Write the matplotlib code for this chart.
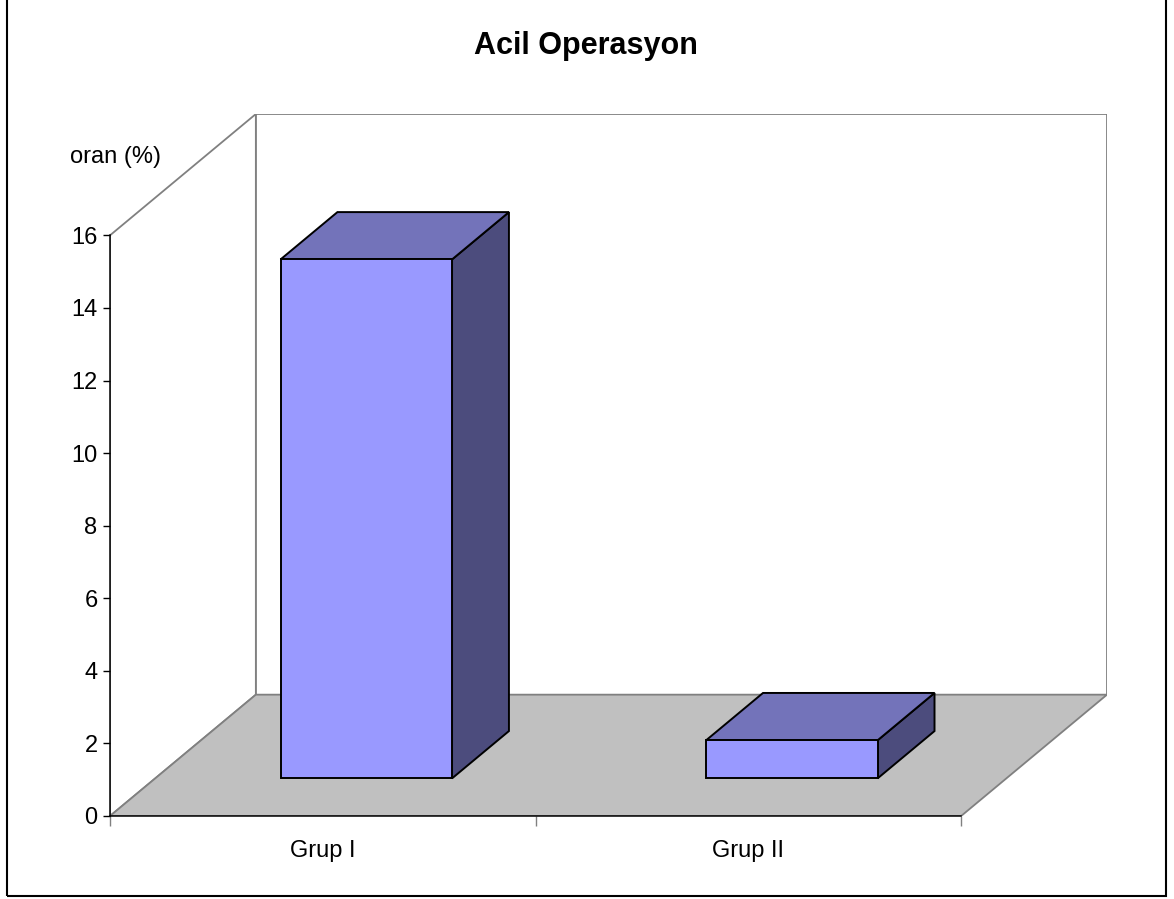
import matplotlib.pyplot as plt
from matplotlib.patches import Polygon, Rectangle

plt.rcParams['font.family'] = ['Liberation Sans', 'DejaVu Sans']

categories = ['Grup I', 'Grup II']
values = [14.3, 1.05]
y_ticks = [0, 2, 4, 6, 8, 10, 12, 14, 16]
title = 'Acil Operasyon'
y_label = 'oran (%)'

# oblique depth offset (category units, value units)
DX = 146 / 426
DY = 121 / 36.19
BAR_W = 0.403
BAR_C = 0.496
D0, D1 = 0.31, 0.70

front_col = '#9999FF'
top_col = '#7373BA'
side_col = '#4C4C7D'
floor_col = '#C0C0C0'
wall_line = '#808080'


def proj(x, v, d):
    return (x + d * DX, v + d * DY)


fig = plt.figure(figsize=(11.74, 8.99), dpi=100)
W, H = 1174, 899
ax = fig.add_axes([110 / W, (H - 816) / H, (1107 - 110) / W, (816 - 114) / H])
ax.set_xlim(0, len(categories) + DX)
ax.set_ylim(0, y_ticks[-1] + DY)
ax.patch.set_alpha(0)

n = len(categories)
ymax = y_ticks[-1]

# walls and floor
left_wall = [proj(0, 0, 0), proj(0, ymax, 0), proj(0, ymax, 1), proj(0, 0, 1)]
ax.add_patch(Polygon(left_wall, closed=True, facecolor='white', edgecolor=wall_line, lw=1.3, zorder=1))
back_wall = [proj(0, 0, 1), proj(0, ymax, 1), proj(n, ymax, 1), proj(n, 0, 1)]
ax.add_patch(Polygon(back_wall, closed=True, facecolor='white', edgecolor=wall_line, lw=1.3, zorder=1))
floor = [proj(0, 0, 0), proj(n, 0, 0), proj(n, 0, 1), proj(0, 0, 1)]
ax.add_patch(Polygon(floor, closed=True, facecolor=floor_col, edgecolor=wall_line, lw=1.3, zorder=2))

# bars
for i, v in enumerate(values):
    x0 = i + BAR_C - BAR_W / 2
    x1 = i + BAR_C + BAR_W / 2
    side = [proj(x1, 0, D0), proj(x1, v, D0), proj(x1, v, D1), proj(x1, 0, D1)]
    top = [proj(x0, v, D0), proj(x1, v, D0), proj(x1, v, D1), proj(x0, v, D1)]
    front = [proj(x0, 0, D0), proj(x1, 0, D0), proj(x1, v, D0), proj(x0, v, D0)]
    for poly, col in [(side, side_col), (top, top_col), (front, front_col)]:
        ax.add_patch(Polygon(poly, closed=True, facecolor=col, edgecolor='black',
                             lw=1.4, joinstyle='miter', zorder=3))

# axes lines
for s in ['top', 'right']:
    ax.spines[s].set_visible(False)
ax.spines['left'].set_bounds(0, ymax)
ax.spines['bottom'].set_bounds(0, n)
ax.spines['left'].set_zorder(4)
ax.spines['bottom'].set_zorder(4)
ax.spines['left'].set_linewidth(1.1)
ax.spines['bottom'].set_linewidth(1.1)

ax.set_yticks(y_ticks)
ax.tick_params(axis='y', direction='out', length=5, width=1, labelsize=17, pad=4)
ax.set_xticks(range(n + 1))
ax.set_xticklabels([])
ax.set_xticks([i + 0.5 for i in range(n)], minor=True)
ax.set_xticklabels(categories, minor=True)
ax.tick_params(axis='x', which='major', direction='out', length=7, width=1, color=wall_line)
ax.tick_params(axis='x', which='minor', length=0, labelsize=17, pad=17)

fig.text(586 / W, 1 - 46 / H, title, ha='center', va='center', fontsize=22, fontweight='bold')
fig.text(115 / W, 1 - 157 / H, y_label, ha='center', va='center', fontsize=17)

# outer chart border
fig.patches.append(Rectangle((6.5 / W, 1 - 896 / H), (1165.5 - 6.5) / W, 896 / H + 0.05,
                             transform=fig.transFigure, fill=False, edgecolor='black', lw=1.5))

fig.savefig('out.png', dpi=100)
